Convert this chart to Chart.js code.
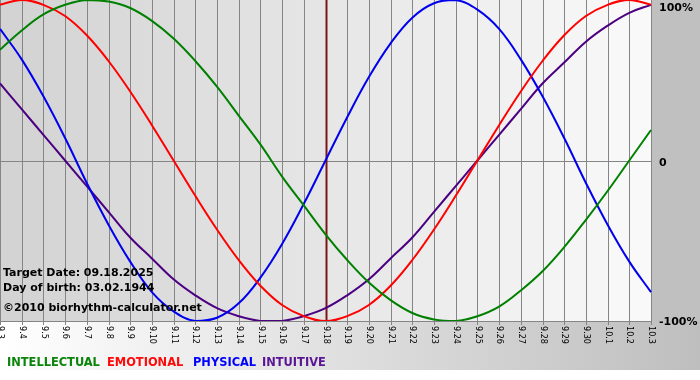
<!DOCTYPE html>
<html><head><meta charset="utf-8">
<style>html,body{margin:0;padding:0;background:#fff;}canvas{display:block;}</style>
<script src="https://cdn.jsdelivr.net/npm/chart.js@4.4.1/dist/chart.umd.min.js"></script>
</head><body>
<canvas id="c" width="700" height="380"></canvas>
<script>
const dateLabels = ['9.3','9.4','9.5','9.6','9.7','9.8','9.9','9.10','9.11','9.12','9.13','9.14','9.15','9.16','9.17','9.18','9.19','9.20','9.21','9.22','9.23','9.24','9.25','9.26','9.27','9.28','9.29','9.30','10.1','10.2','10.3'];
const intellectual = [69,81,91,97,100,99,95,87,76,62,46,28,10,-10,-28,-46,-62,-76,-87,-95,-99,-100,-97,-91,-81,-69,-54,-37,-19,0,19];
const emotional = [97,100,97,90,78,62,43,22,0,-22,-43,-62,-78,-90,-97,-100,-97,-90,-78,-62,-43,-22,0,22,43,62,78,90,97,100,97];
const physical = [82,63,40,14,-14,-40,-63,-82,-94,-100,-98,-89,-73,-52,-27,0,27,52,73,89,98,100,94,82,63,40,14,-14,-40,-63,-82];
const intuitive = [48,32,16,0,-16,-32,-48,-61,-74,-84,-92,-97,-100,-100,-97,-92,-84,-74,-61,-48,-32,-16,0,16,32,48,61,74,84,92,97];
const targetLabel = '9.18';
const yTickValues = [100, 0, -100];
const yTickLabels = ['100%', '0', '-100%'];
const infoLines = ['Target Date: 09.18.2025', 'Day of birth: 03.02.1944', '\u00A92010 biorhythm-calculator.net'];
const seriesNames = ['INTELLECTUAL', 'EMOTIONAL', 'PHYSICAL', 'INTUITIVE'];
const seriesColors = ['#008000', '#ff0000', '#0000ee', '#4b0082'];
const legendColors = ['#0a850a', '#ff0a0a', '#0000ff', '#5a1496'];

const W = 700, H = 380;
function lerp(a, b, t) { return Math.round(a + (b - a) * t); }

const decor = {
  id: 'decor',
  beforeDraw(chart) {
    const ctx = chart.ctx;
    const ca = chart.chartArea;
    const xs = chart.scales.x;
    ctx.save();
    ctx.fillStyle = '#ffffff';
    ctx.fillRect(0, 0, W, H);
    const g = ctx.createLinearGradient(0, 0, W, 0);
    g.addColorStop(0, '#ffffff');
    g.addColorStop(1, '#bebebe');
    ctx.fillStyle = g;
    ctx.fillRect(0, ca.bottom, W, 370 - ca.bottom);
    ctx.fillStyle = '#c0c0c0';
    ctx.fillRect(ca.right, 0, W - ca.right, ca.bottom);
    const n = dateLabels.length;
    for (let i = 0; i < n - 1; i++) {
      const x0 = xs.getPixelForValue(i), x1 = xs.getPixelForValue(i + 1);
      const t = i / (n - 2);
      const v = lerp(0xd3, 0xf9, t);
      ctx.fillStyle = 'rgb(' + v + ',' + v + ',' + v + ')';
      ctx.fillRect(Math.floor(x0), ca.top, Math.ceil(x1) - Math.floor(x0), ca.bottom - ca.top);
    }
    ctx.restore();
  },
  beforeDatasetsDraw(chart) {
    const ctx = chart.ctx;
    const ca = chart.chartArea;
    const xs = chart.scales.x, ys = chart.scales.y;
    ctx.save();
    ctx.strokeStyle = '#858585';
    ctx.lineWidth = 1;
    for (let i = 0; i < dateLabels.length; i++) {
      const px = Math.round(xs.getPixelForValue(i)) + 0.5;
      ctx.beginPath();
      ctx.moveTo(px, ca.top);
      ctx.lineTo(px, ca.bottom + 4);
      ctx.stroke();
    }
    for (const v of [0, -100]) {
      const py = Math.round(ys.getPixelForValue(v)) + 0.5;
      ctx.beginPath();
      ctx.moveTo(ca.left, py);
      ctx.lineTo(ca.right + 1, py);
      ctx.stroke();
    }
    const ti = dateLabels.indexOf(targetLabel);
    const tx = Math.round(xs.getPixelForValue(ti)) + 0.5;
    ctx.strokeStyle = '#7a1616';
    ctx.lineWidth = 2;
    ctx.beginPath();
    ctx.moveTo(tx, ca.top);
    ctx.lineTo(tx, ca.bottom);
    ctx.stroke();
    ctx.restore();
  },
  afterDraw(chart) {
    const ctx = chart.ctx;
    const ca = chart.chartArea;
    const xs = chart.scales.x, ys = chart.scales.y;
    ctx.save();
    ctx.fillStyle = '#000000';
    ctx.font = '9px "DejaVu Sans Condensed", "DejaVu Sans", sans-serif';
    ctx.textAlign = 'left';
    ctx.textBaseline = 'middle';
    for (let i = 0; i < dateLabels.length; i++) {
      const px = xs.getPixelForValue(i);
      ctx.save();
      ctx.translate(px + 0.5, ca.bottom + 5);
      ctx.rotate(Math.PI / 2);
      ctx.fillText(dateLabels[i], 0, 0);
      ctx.restore();
    }
    ctx.font = 'bold 11px "DejaVu Sans", sans-serif';
    ctx.textBaseline = 'alphabetic';
    const yBase = [11, 166, 325];
    for (let k = 0; k < yTickValues.length; k++) {
      const py = ys.getPixelForValue(yTickValues[k]);
      const off = yBase[k] - py;
      ctx.fillText(yTickLabels[k], ca.right + 8, py + off);
    }
    ctx.font = 'bold 11px "DejaVu Sans", sans-serif';
    const infoY = [276, 291, 311];
    for (let k = 0; k < infoLines.length; k++) {
      ctx.fillText(infoLines[k], 3, infoY[k]);
    }
    ctx.font = 'bold 12.7px "DejaVu Sans Condensed", "DejaVu Sans", sans-serif';
    const legendX = [7, 107, 193, 262];
    for (let k = 0; k < seriesNames.length; k++) {
      ctx.fillStyle = legendColors[k];
      ctx.fillText(seriesNames[k], legendX[k], 366);
    }
    ctx.restore();
  }
};

new Chart(document.getElementById('c'), {
  type: 'line',
  data: {
    labels: dateLabels,
    datasets: [
      { label: seriesNames[0], data: intellectual, borderColor: seriesColors[0] },
      { label: seriesNames[1], data: emotional, borderColor: seriesColors[1] },
      { label: seriesNames[2], data: physical, borderColor: seriesColors[2] },
      { label: seriesNames[3], data: intuitive, borderColor: seriesColors[3] }
    ]
  },
  options: {
    responsive: false,
    animation: false,
    devicePixelRatio: 1,
    layout: { padding: { left: 0, top: 0, right: 49, bottom: 59 } },
    elements: {
      point: { radius: 0, hoverRadius: 0 },
      line: { borderWidth: 2, tension: 0.4, fill: false }
    },
    plugins: { legend: { display: false }, tooltip: { enabled: false } },
    scales: {
      x: { type: 'category', display: false, offset: false },
      y: { display: false, min: -100, max: 100 }
    }
  },
  plugins: [decor]
});
</script>
</body></html>
